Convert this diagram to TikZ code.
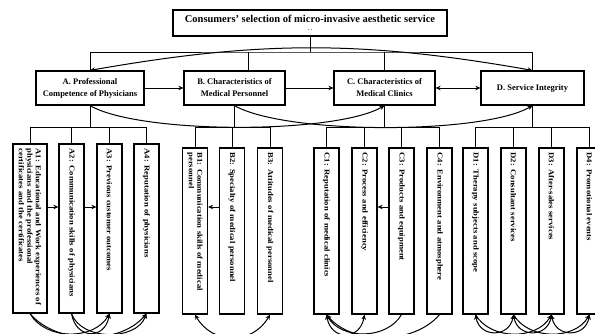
\documentclass[tikz,border=0pt]{standalone}
\usepackage{fontspec}
\setmainfont{Liberation Serif}
\newfontfamily\subfont[FakeStretch=1.15]{Liberation Serif}
\usetikzlibrary{arrows.meta}

\begin{document}
\begin{tikzpicture}[x=1pt,y=1pt,>={Stealth[length=5pt,width=4.5pt]},line width=1pt]
\tikzstyle{main}=[draw,line width=1.2pt,minimum height=34pt,align=center,inner sep=2pt,font=\bfseries\fontsize{8.5}{12}\selectfont]
\tikzstyle{sub}=[draw,line width=1.2pt,rotate=-90,minimum width=166pt,minimum height=25pt,text width=157pt,align=left,inner sep=4pt,font=\subfont\bfseries\fontsize{7.5}{8.5}\selectfont]
\tikzstyle{suba}=[sub,minimum width=169pt,text width=160pt]
\useasboundingbox (0,0) rectangle (595,333);
\node[main,minimum width=274pt,minimum height=26pt,font=\bfseries\fontsize{10.5}{10.5}\selectfont] (top) at (310,310) {Consumers’ selection of micro-invasive aesthetic service\\[-2.5pt]{\fontsize{5}{5}\selectfont. .}};
\node[main,minimum width=108pt] (A) at (90,245) {A. Professional\\Competence of Physicians};
\node[main,minimum width=101pt] (B) at (234.5,245) {B. Characteristics of\\Medical Personnel};
\node[main,minimum width=101pt] (C) at (384.5,245) {C. Characteristics of\\Medical Clinics};
\node[main,minimum width=103pt] (D) at (532.5,245) {D. Service Integrity};
% sub-criteria, text runs top to bottom
\node[suba,minimum height=34pt] (A1) at (30,104.5) {A1: Educational and Work experiences of\\physicians and the professional\\certificates and the certificates};
\node[suba] (A2) at (71.5,104.5) {A2: Communication skills of physicians};
\node[suba] (A3) at (109.5,104.5) {A3: Previous customer outcomes};
\node[suba] (A4) at (146.5,104.5) {A4: Reputation of physicians};
\node[sub] (B1) at (195,102) {B1: Communication skills of medical\\personnel};
\node[sub] (B2) at (232,102) {B2: Specialty of medical personnel};
\node[sub] (B3) at (270,102) {B3: Attitudes of medical personnel};
\node[sub] (C1) at (326.5,102) {C1: Reputation of medical clinics};
\node[sub] (C2) at (364.5,102) {C2: Process and efficiency};
\node[sub] (C3) at (401.5,102) {C3: Products and equipment};
\node[sub] (C4) at (439.5,102) {C4: Environment and atmosphere};
\node[sub] (D1) at (475.5,102) {D1: Therapy subjects and scope};
\node[sub] (D2) at (513.5,102) {D2: Consultant services};
\node[sub] (D3) at (551.5,102) {D3: After-sales services};
\node[sub] (D4) at (589.5,102) {D4: Promotional events};
\coordinate (bus) at (310,281);
\coordinate (ja) at (90,206);
\coordinate (jb) at (234.5,206);
\coordinate (jc) at (384.5,206);
\coordinate (jd) at (532.5,206);
\coordinate (mid) at (0,126);
% tree lines
\draw (top.south) -- (bus);
\draw (A.north) |- (bus) -| (D.north);
\draw ([xshift=13.5pt]B.north) -- ([xshift=13.5pt]B.north |- bus);
\draw (C.north) -- (C.north |- bus);
\draw (A.south) -- (ja); \draw (B.south) -- (jb); \draw (C.south) -- (jc); \draw (D.south) -- (jd);
\draw (A1.west) |- (ja); \draw (A2.west) |- (ja); \draw (A3.west) |- (ja); \draw (A4.west) |- (ja);
\draw (B1.west) |- (jb); \draw (B2.west) |- (jb); \draw (B3.west) |- (jb);
\draw (C1.west) |- (jc); \draw (C2.west) |- (jc); \draw (C3.west) |- (jc); \draw (C4.west) |- (jc);
\draw (D1.west) |- (jd); \draw (D2.west) |- (jd); \draw (D3.west) |- (jd); \draw (D4.west) |- (jd);
% relations between dimensions
\draw[<->] (A.north) to[out=10,in=170] (D.north);
\draw[->] (A) -- (B);
\draw[->] (B) -- (C);
\draw[<->] (C) -- (D);
\draw[->] (A.south) to[out=-30,in=-150,looseness=0.5] (C.south);
\draw[->] (B.south) to[out=-30,in=-150,looseness=0.5] (D.south);
% relations between sub-criteria
\draw[->] (A1.north |- mid) -- (A2.south |- mid);
\draw[->] (A2.north |- mid) -- (A3.south |- mid);
\draw[->] (B2.south |- mid) -- (B1.north |- mid);
\draw[->] (C3.south |- mid) -- (C2.north |- mid);
\draw[->] (A1.east) to[out=-60,in=-120] (A3.east);
\draw[->] (A1.east) to[out=-50,in=-130,looseness=0.9] (A4.east);
\draw[->] (A2.east) to[out=-80,in=-100,looseness=1.8] (A3.east);
\draw[->] (A2.east) to[out=-70,in=-110] (A4.east);
\draw[<->] (B1.east) to[out=-60,in=-120,looseness=1.2] (B3.east);
\draw[<->] (C1.east) to[out=-80,in=-100,looseness=1.8] (C2.east);
\draw[->] (C3.east) to[out=-120,in=-60] (C1.east);
\draw[->] (C4.east) to[out=-130,in=-50,looseness=0.9] (C1.east);
\draw[<->] (D1.east) to[out=-80,in=-100,looseness=1.6] (D2.east);
\draw[<->] (D2.east) to[out=-80,in=-100,looseness=1.6] (D3.east);
\draw[<->] (D3.east) to[out=-80,in=-100,looseness=1.6] (D4.east);
\draw[->] (D1.east) to[out=-60,in=-120] (D3.east);
\draw[->] (D2.east) to[out=-60,in=-120] (D4.east);
\end{tikzpicture}
\end{document}
